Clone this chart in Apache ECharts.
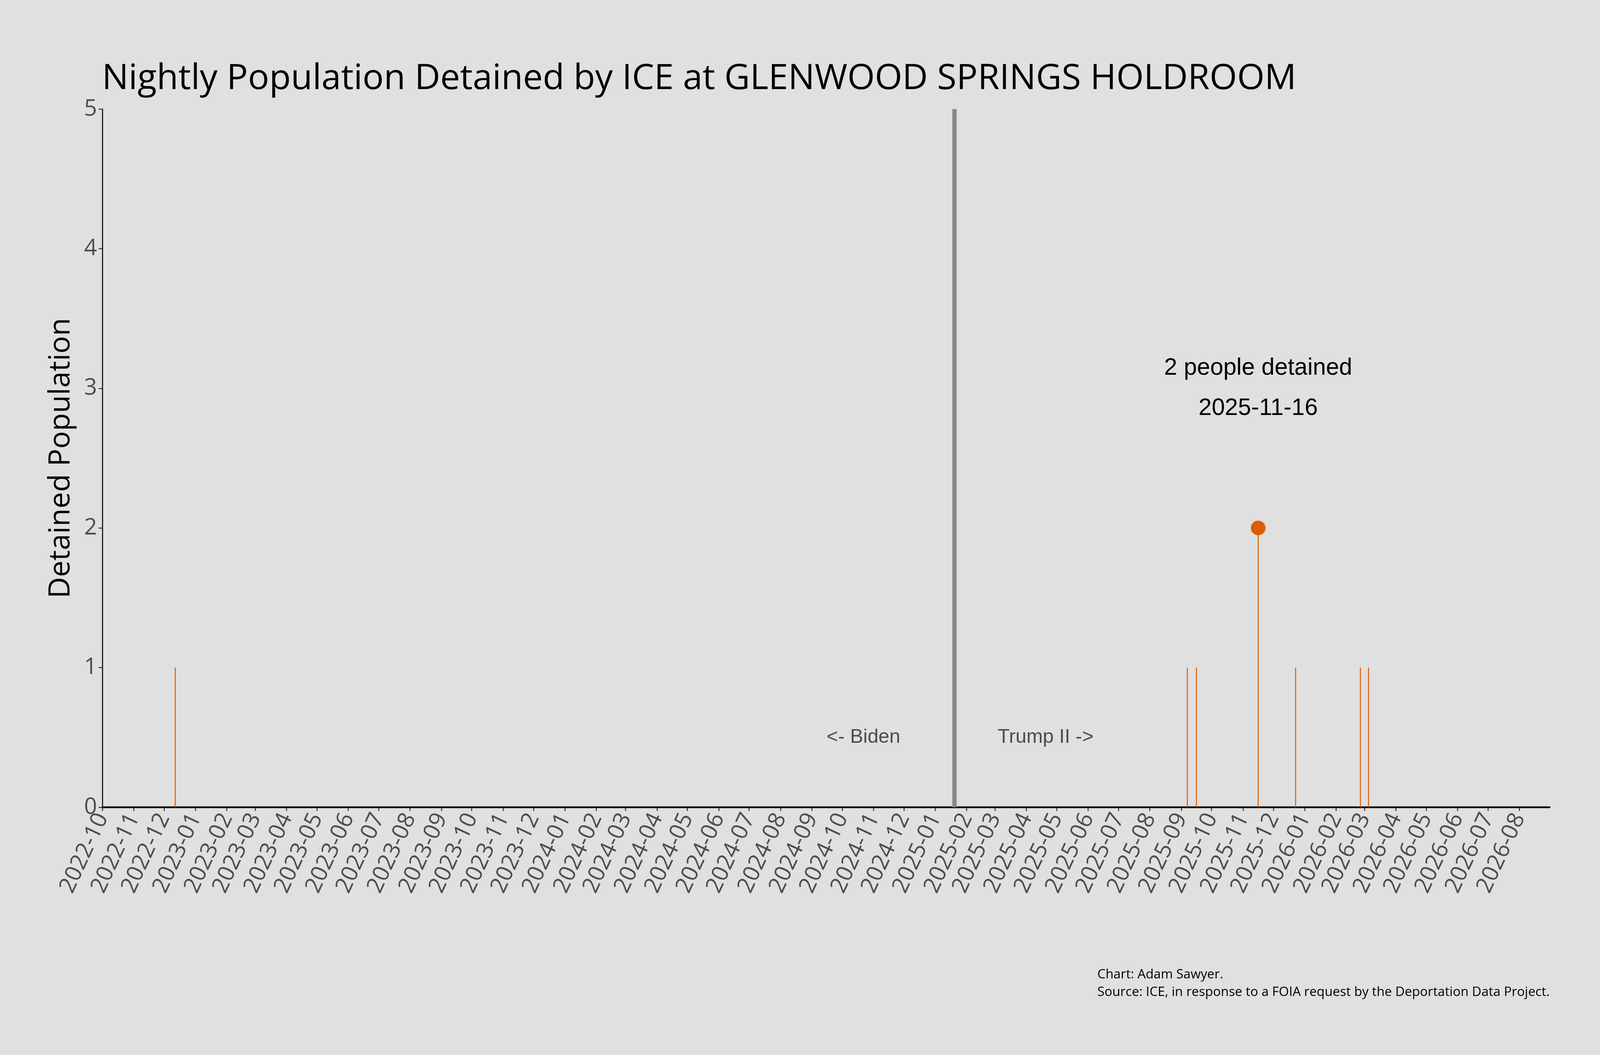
<!DOCTYPE html>
<html>
<head>
<meta charset="utf-8">
<script src="https://cdn.jsdelivr.net/npm/echarts@6/dist/echarts.min.js"></script>
<style>
  html, body { margin: 0; padding: 0; background: #e0e0e0; overflow: hidden; }
  #chart { width: 100vw; height: 100vh; }
</style>
</head>
<body>
<div id="chart"></div>
<script>
// nightly population, only nights with someone detained
const detainDates = ['2022-12-12', '2025-09-07', '2025-09-16', '2025-11-16', '2025-12-23', '2026-02-25', '2026-03-05'];
const detainCounts = [1, 1, 1, 2, 1, 1, 1];

const monthTicks = [
  '2022-10', '2022-11', '2022-12',
  '2023-01', '2023-02', '2023-03', '2023-04', '2023-05', '2023-06',
  '2023-07', '2023-08', '2023-09', '2023-10', '2023-11', '2023-12',
  '2024-01', '2024-02', '2024-03', '2024-04', '2024-05', '2024-06',
  '2024-07', '2024-08', '2024-09', '2024-10', '2024-11', '2024-12',
  '2025-01', '2025-02', '2025-03', '2025-04', '2025-05', '2025-06',
  '2025-07', '2025-08', '2025-09', '2025-10', '2025-11', '2025-12',
  '2026-01', '2026-02', '2026-03', '2026-04', '2026-05', '2026-06',
  '2026-07', '2026-08'
];
const xRange = ['2022-10-01', '2026-08-31'];

const inauguration = '2025-01-20';
const eraLabels = ['<- Biden', 'Trump II ->'];
const eraOffsetDays = [-90, 90];
const eraLabelY = 0.5;

const DAY = 86400000;
// dates -> UTC ms, x axis is a plain value axis of timestamps
const ts = (s) => Date.parse(s.length === 7 ? s + '-01' : s);
const tickValues = monthTicks.map(ts);

const seriesData = detainDates.map((d, i) => [ts(d), detainCounts[i]]);
const peakIdx = detainCounts.indexOf(Math.max(...detainCounts));
const peak = seriesData[peakIdx];

// layout was measured on a 4800x2700 canvas, scale to whatever the window is
const el = document.getElementById('chart');
const W = el.clientWidth || 4800, H = el.clientHeight || 2700;
const sx = W / 4800, sy = H / 2700, s = Math.min(sx, sy);
const X = (v) => v * sx, Y = (v) => v * sy, F = (v) => v * s;

const chart = echarts.init(el, null, { renderer: 'canvas' });
const ui = '"Open Sans", "Noto Sans", sans-serif';
const arial = '"Liberation Sans", Arial, sans-serif';
const orange = '#d95f02';

chart.setOption({
  backgroundColor: '#e0e0e0',
  animation: false,
  title: {
    text: 'Nightly Population Detained by ICE at GLENWOOD SPRINGS HOLDROOM',
    left: X(300), top: Y(232) - 0.88 * F(106),
    textStyle: { fontFamily: ui, fontWeight: 'normal', fontSize: F(106), color: '#000' },
  },
  grid: { left: X(307), right: X(151), top: Y(279), bottom: Y(634) },
  xAxis: {
    type: 'value',
    min: ts(xRange[0]), max: ts(xRange[1]),
    axisLine: { lineStyle: { color: '#000', width: F(5) } },
    axisTick: { customValues: tickValues, length: F(11), lineStyle: { color: '#333', width: F(3) } },
    axisLabel: {
      customValues: tickValues,
      rotate: 65, margin: F(22),
      fontFamily: ui, fontSize: F(68), color: '#4d4d4d',
      formatter: (v) => {
        const i = tickValues.indexOf(v);
        return i >= 0 ? monthTicks[i] : '';
      },
    },
    splitLine: { show: false },
  },
  yAxis: {
    type: 'value', min: 0, max: 5, interval: 1,
    name: 'Detained Population', nameLocation: 'middle',
    nameGap: X(307 - 184) - F(88) / 2,
    nameTextStyle: { fontFamily: ui, fontSize: F(88), color: '#000' },
    axisLine: { show: true, lineStyle: { color: '#000', width: F(3) } },
    axisTick: { show: true, length: F(11), lineStyle: { color: '#333', width: F(3) } },
    axisLabel: { fontFamily: ui, fontSize: F(68), color: '#4d4d4d', margin: F(16) },
    splitLine: { show: false },
  },
  series: [
    {
      type: 'bar',
      data: seriesData,
      barWidth: Math.max(2, F(3)),
      itemStyle: { color: orange },
      markLine: {
        silent: true, symbol: 'none',
        label: { show: false },
        lineStyle: { color: '#888888', width: F(13), type: 'solid' },
        data: [{ xAxis: ts(inauguration) }],
      },
      markPoint: {
        symbol: 'rect', symbolSize: 1,
        itemStyle: { color: 'rgba(0,0,0,0)' },
        label: {
          show: true, position: 'inside',
          fontFamily: arial, fontSize: F(59), color: '#4d4d4d',
          formatter: (p) => p.name,
        },
        data: eraLabels.map((t, i) => ({
          name: t,
          coord: [ts(inauguration) + eraOffsetDays[i] * DAY, eraLabelY],
        })),
      },
    },
    {
      type: 'scatter',
      data: [peak],
      symbolSize: F(44),
      itemStyle: { color: orange, opacity: 1 },
      markPoint: {
        symbol: 'rect', symbolSize: 1,
        itemStyle: { color: 'rgba(0,0,0,0)' },
        label: {
          show: true, position: 'inside',
          fontFamily: arial, fontSize: F(71), lineHeight: Y(103), color: '#000',
          formatter: () => peak[1] + ' people detained\n' + detainDates[peakIdx],
        },
        data: [{ coord: [peak[0], peak[1] + 1] }],
      },
    },
  ],
  graphic: [
    {
      type: 'text', right: X(151), top: Y(2472),
      style: {
        text: 'Chart: Adam Sawyer.\nSource: ICE, in response to a FOIA request by the Deportation Data Project.',
        align: 'right', font: F(39) + 'px "Open Sans", sans-serif', fill: '#000', lineHeight: Y(45),
      },
    },
  ],
});
</script>
</body>
</html>
